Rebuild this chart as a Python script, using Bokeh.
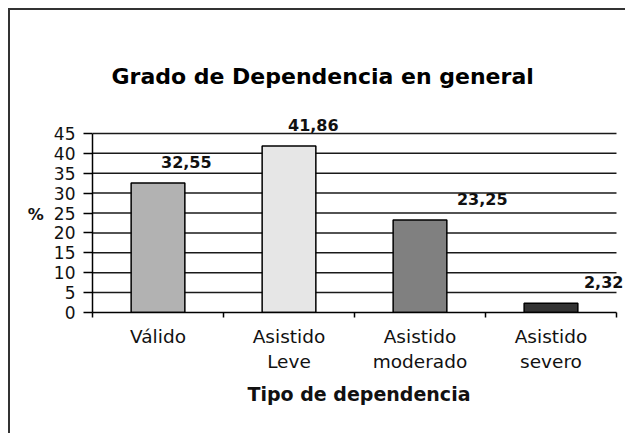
from bokeh.plotting import figure
from bokeh.models import ColumnDataSource, FixedTicker, Range1d, Label
from bokeh.embed import file_html
from bokeh.resources import INLINE

# ---- data ----
categories = ["Válido", "Asistido\nLeve", "Asistido\nmoderado", "Asistido\nsevero"]
values = [32.55, 41.86, 23.25, 2.32]
y_ticks = [0, 5, 10, 15, 20, 25, 30, 35, 40, 45]
title_text = "Grado de Dependencia en general"
x_title = "Tipo de dependencia"
y_title = "%"

# ---- styles ----
bar_colors = ["#b2b2b2", "#e6e6e6", "#808080", "#333333"]
label_dx = [3, -1, 37, 33]
FONT = "DejaVu Sans"

n = len(categories)
xs = [i + 0.5 for i in range(n)]
labels = [f"{v:.2f}".replace(".", ",") for v in values]

src = ColumnDataSource(dict(x=xs, value=values, color=bar_colors))
grid_src = ColumnDataSource(dict(y=y_ticks[1:], x0=[0] * (len(y_ticks) - 1),
                                 x1=[n] * (len(y_ticks) - 1)))

p = figure(width=625, height=433, output_backend="svg", toolbar_location=None,
           x_range=Range1d(0, n * 1.0172), y_range=Range1d(y_ticks[0], y_ticks[-1] * 1.1),
           min_border_left=92, min_border_right=0, min_border_top=115, min_border_bottom=121)
p.outline_line_color = None
p.background_fill_color = None
p.border_fill_color = None
# outer chart border: only its top and left edges fall inside the page
p.styles = {"box-shadow": "inset 8px 8px 0 0 #ffffff, inset 10px 10px 0 0 #333333"}

# horizontal grid lines (only across the categories)
p.segment(x0="x0", x1="x1", y0="y", y1="y", source=grid_src,
          line_color="#1a1a1a", line_width=1.5)

p.vbar(x="x", top="value", width=0.41, source=src, fill_color="color",
       line_color="black", line_width=1.5)

# title
p.title.text = title_text
p.title.text_font = FONT
p.title.text_font_style = "bold"
p.title.text_font_size = "22px"
p.title.text_color = "black"
p.title.align = "left"
p.title.offset = 19
p.title.standoff = 54

# x axis
xa = p.xaxis[0]
xa.bounds = (0, n)
xa.ticker = FixedTicker(ticks=xs, minor_ticks=list(range(n + 1)))
xa.major_label_overrides = {x: c for x, c in zip(xs, categories)}
xa.major_tick_out = 0
xa.major_tick_in = 0
xa.minor_tick_out = 5
xa.minor_tick_in = 0
xa.minor_tick_line_color = "black"
xa.minor_tick_line_width = 1.5
xa.axis_line_color = "black"
xa.axis_line_width = 1.5
xa.major_label_text_font = FONT
xa.major_label_text_font_size = "18.5px"
xa.major_label_text_color = "#111111"
xa.major_label_standoff = 8
xa.axis_label = x_title
xa.axis_label_text_font = FONT
xa.axis_label_text_font_style = "bold"
xa.axis_label_text_font_size = "19px"
xa.axis_label_standoff = 8
xa.axis_label_text_color = "#111111"

# y axis
ya = p.yaxis[0]
ya.bounds = (y_ticks[0], y_ticks[-1])
ya.ticker = FixedTicker(ticks=y_ticks)
ya.major_tick_out = 9
ya.major_tick_in = 0
ya.minor_tick_out = 0
ya.minor_tick_in = 0
ya.major_tick_line_color = "black"
ya.major_tick_line_width = 1.5
ya.axis_line_color = "black"
ya.axis_line_width = 1.5
ya.major_label_text_font = FONT
ya.major_label_text_font_size = "17px"
ya.major_label_text_color = "#111111"
ya.major_label_standoff = 8
ya.axis_label = y_title
ya.axis_label_orientation = "horizontal"
ya.axis_label_text_font = FONT
ya.axis_label_text_font_style = "bold"
ya.axis_label_text_font_size = "16px"
ya.axis_label_standoff = 7
ya.axis_label_text_color = "#111111"

p.xgrid.grid_line_color = None
p.ygrid.grid_line_color = None

# value labels
for x, v, t, dx in zip(xs, values, labels, label_dx):
    p.add_layout(Label(x=x, y=v, text=t, x_offset=dx, y_offset=21,
                       text_align="left", text_baseline="alphabetic", text_font=FONT,
                       text_font_style="bold", text_font_size="16px",
                       text_color="#111111"))

open("out.html", "w").write(file_html(p, INLINE))
